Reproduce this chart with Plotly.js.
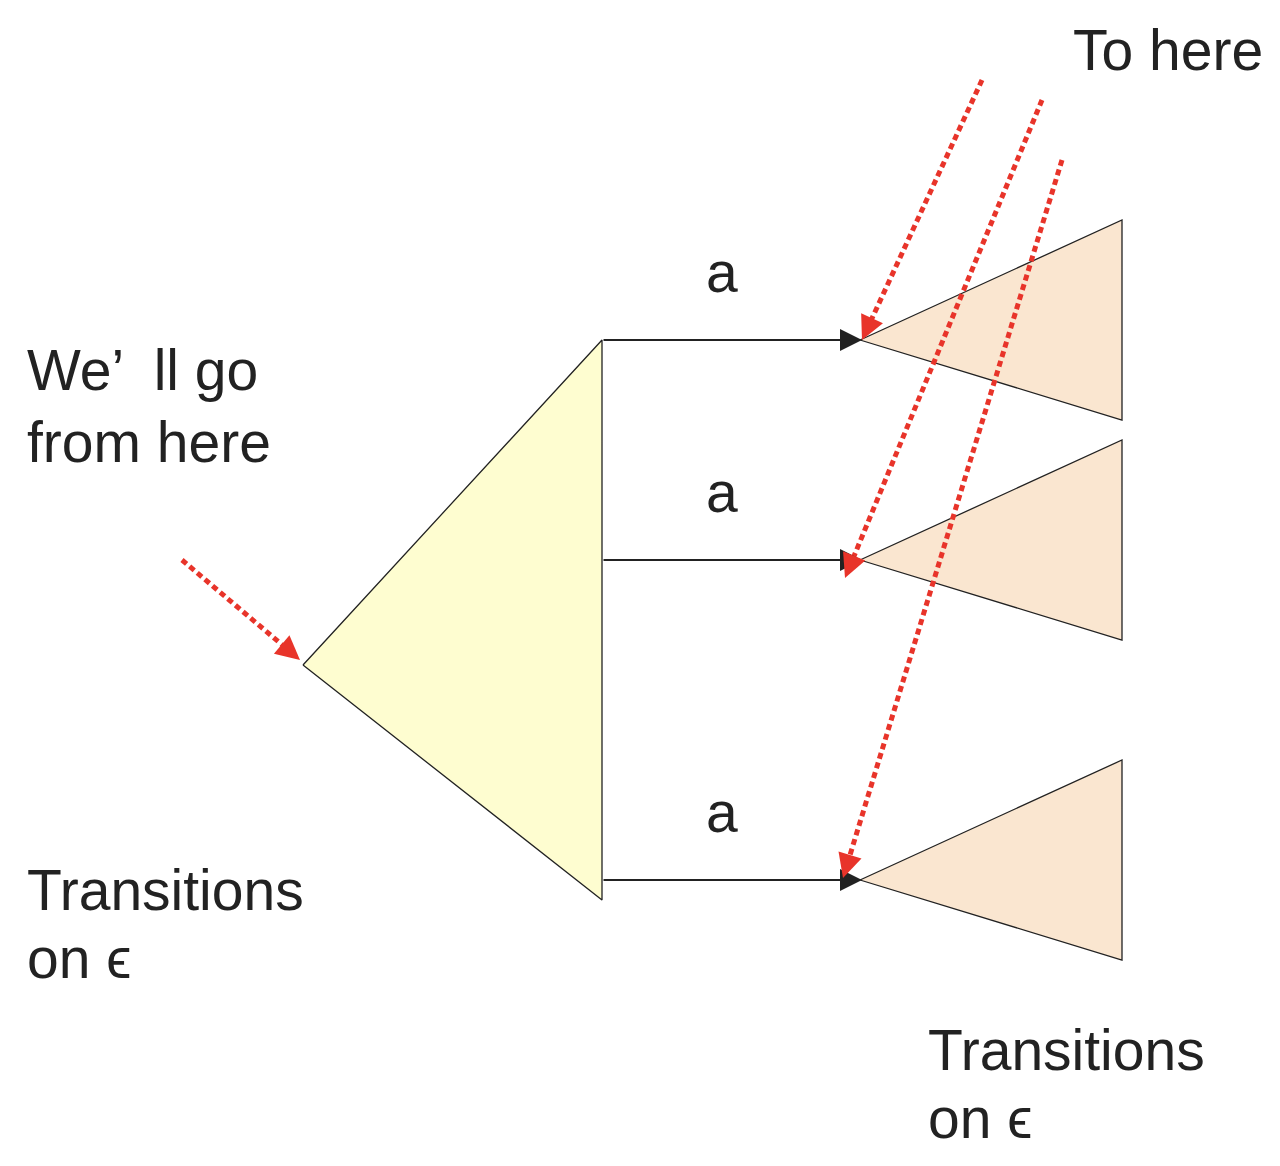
<html><head><script src="https://cdn.plot.ly/plotly-3.0.1.min.js"></script></head><body style="margin:0">
<div id="c" style="width:1280px;height:1166px"></div>
<script>
const bigTri = {x:[303,602,602,303], y:[665,340,900,665]};
const smallTris = [
  {x:[860,1122,1122,860], y:[340,220,420,340]},
  {x:[860,1122,1122,860], y:[560,440,640,560]},
  {x:[860,1122,1122,860], y:[880,760,960,880]}
];
const edgeY = [340,560,880];
const edgeX0 = 602, edgeX1 = 862;
const redArrows = [
  [182,560,300,660],
  [982,80,862,340],
  [1042,100,845,578],
  [1062,160,843,878]
];
const labels = [
  {t:"a", x:722, y:272, a:"center"},
  {t:"a", x:722, y:492, a:"center"},
  {t:"a", x:722, y:812, a:"center"},
  {t:"We’  ll go", x:25, y:370, a:"left"},
  {t:"from here", x:25, y:442, a:"left"},
  {t:"Transitions", x:25, y:890, a:"left"},
  {t:"on ϵ", x:25, y:958, a:"left"},
  {t:"To here", x:1265, y:50, a:"right"},
  {t:"Transitions", x:926, y:1050, a:"left"},
  {t:"on ϵ", x:926, y:1118, a:"left"}
];
const traces = [];
traces.push({x:bigTri.x,y:bigTri.y,fill:'toself',fillcolor:'#fefdd0',mode:'lines',line:{color:'#222',width:1.3}});
smallTris.forEach(t=>traces.push({x:t.x,y:t.y,fill:'toself',fillcolor:'#fae6d0',mode:'lines',line:{color:'#222',width:1.3}}));
const ann = [];
edgeY.forEach(y=>{
  ann.push({x:edgeX1,y:y,ax:edgeX0,ay:y,xref:'x',yref:'y',axref:'x',ayref:'y',showarrow:true,arrowhead:2,arrowsize:2.2,arrowwidth:2,arrowcolor:'#222',text:''});
});
redArrows.forEach(r=>{
  const [x0,y0,x1,y1]=r;
  const L=Math.hypot(x1-x0,y1-y0), ux=(x1-x0)/L, uy=(y1-y0)/L;
  traces.push({x:[x0,x1-ux*12],y:[y0,y1-uy*12],mode:'lines',line:{color:'#e8342a',width:5,dash:'6px,4px'}});
  ann.push({x:x1,y:y1,ax:x1-ux*16,ay:y1-uy*16,xref:'x',yref:'y',axref:'x',ayref:'y',showarrow:true,arrowhead:2,arrowsize:1.2,arrowwidth:4,arrowcolor:'#e8342a',text:''});
});
labels.forEach(l=>ann.push({x:l.x,y:l.y,xref:'x',yref:'y',text:l.t,showarrow:false,xanchor:l.a,yanchor:'middle',font:{family:'Liberation Sans, Arial',size:57,color:'#222'}}));
Plotly.newPlot('c',traces,{
  width:1280,height:1166,margin:{l:0,r:0,t:0,b:0},showlegend:false,
  paper_bgcolor:'#fff',plot_bgcolor:'#fff',
  xaxis:{range:[0,1280],visible:false,fixedrange:true},
  yaxis:{range:[1166,0],visible:false,fixedrange:true},
  annotations:ann
},{staticPlot:true});
</script></body></html>
